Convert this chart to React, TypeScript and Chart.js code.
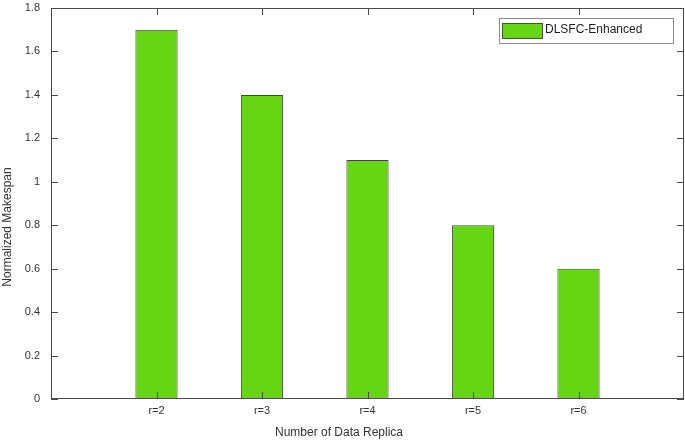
import React, { useEffect, useRef } from "react";
import { Chart, registerables } from "chart.js";

Chart.register(...registerables);

const categories = ["r=2", "r=3", "r=4", "r=5", "r=6"];
const seriesName = "DLSFC-Enhanced";
const seriesValues = [1.7, 1.4, 1.1, 0.8, 0.6];
const yTicks = [0, 0.2, 0.4, 0.6, 0.8, 1, 1.2, 1.4, 1.6, 1.8];
const yTickLabels = ["0", "0.2", "0.4", "0.6", "0.8", "1", "1.2", "1.4", "1.6", "1.8"];
const xTitle = "Number of Data Replica";
const yTitle = "Normalized Makespan";

const FONT = "'Liberation Sans', Arial, sans-serif";
const BAR_COLOR = "#66d614";
const LINE_COLOR = "#4a4a4a";
const TEXT_COLOR = "#333333";

export default function App() {
  const ref = useRef<HTMLCanvasElement | null>(null);

  useEffect(() => {
    document.body.style.margin = "0";
    const canvas = ref.current;
    if (!canvas) return;

    const labels = ["", ...categories, ""];
    const data = [null, ...seriesValues, null];

    const decor = {
      id: "decor",
      afterDatasetsDraw(chart: any) {
        const { ctx, chartArea } = chart;
        const { left, right, top, bottom } = chartArea;
        const xs = chart.scales.x;
        const ys = chart.scales.y;
        ctx.save();
        ctx.strokeStyle = LINE_COLOR;
        ctx.lineWidth = 1;
        ctx.strokeRect(Math.round(left) + 0.5, Math.round(top) + 0.5, Math.round(right - left) - 1, Math.round(bottom - top) - 1);
        const tl = 7;
        ctx.beginPath();
        yTicks.forEach((v) => {
          const py = Math.round(ys.getPixelForValue(v)) + 0.5;
          ctx.moveTo(left, py);
          ctx.lineTo(left + tl, py);
          ctx.moveTo(right, py);
          ctx.lineTo(right - tl, py);
        });
        categories.forEach((_, i) => {
          const px = Math.round(xs.getPixelForValue(i + 1)) + 0.5;
          ctx.moveTo(px, bottom);
          ctx.lineTo(px, bottom - tl);
          ctx.moveTo(px, top);
          ctx.lineTo(px, top + tl);
        });
        ctx.stroke();

        // tick labels
        ctx.fillStyle = TEXT_COLOR;
        ctx.font = `11px ${FONT}`;
        ctx.textBaseline = "middle";
        ctx.textAlign = "right";
        yTicks.forEach((v, i) => {
          ctx.fillText(yTickLabels[i], left - 11, ys.getPixelForValue(v));
        });
        ctx.textAlign = "center";
        categories.forEach((c, i) => {
          ctx.fillText(c, xs.getPixelForValue(i + 1), bottom + 12);
        });

        // legend
        ctx.fillStyle = "#ffffff";
        ctx.fillRect(499.5, 18.5, 174, 25);
        ctx.strokeStyle = "#8a8a8a";
        ctx.strokeRect(499.5, 18.5, 174, 25);
        ctx.fillStyle = BAR_COLOR;
        ctx.fillRect(502.5, 23.5, 40, 15);
        ctx.strokeStyle = "#3f5a2a";
        ctx.strokeRect(502.5, 23.5, 40, 15);
        ctx.fillStyle = "#222222";
        ctx.font = `12px ${FONT}`;
        ctx.textBaseline = "middle";
        ctx.textAlign = "left";
        ctx.fillText(seriesName, 545, 30);

        // axis titles
        ctx.fillStyle = TEXT_COLOR;
        ctx.textAlign = "center";
        ctx.fillText(xTitle, 339, 433);
        ctx.save();
        ctx.translate(8, 227);
        ctx.rotate(-Math.PI / 2);
        ctx.fillText(yTitle, 0, 0);
        ctx.restore();
        ctx.restore();
      },
    };

    const chart = new Chart(canvas, {
      type: "bar",
      data: {
        labels,
        datasets: [
          {
            label: seriesName,
            data,
            backgroundColor: BAR_COLOR,
            borderColor: "#3f4a38",
            borderWidth: 1,
            categoryPercentage: 0.4,
            barPercentage: 1,
          },
        ],
      },
      options: {
        animation: false,
        responsive: false,
        maintainAspectRatio: false,
        layout: { padding: { top: 8, right: 1, left: 0, bottom: 0 } },
        plugins: { legend: { display: false }, tooltip: { enabled: false } },
        scales: {
          x: {
            type: "category",
            offset: false,
            grid: { display: false },
            border: { display: false },
            ticks: { display: false },
            afterFit: (s: any) => {
              s.height = 42;
            },
          },
          y: {
            min: 0,
            max: 1.8,
            grid: { display: false },
            border: { display: false },
            afterBuildTicks: (s: any) => {
              s.ticks = yTicks.map((v) => ({ value: v }));
            },
            ticks: { display: false },
            afterFit: (s: any) => {
              s.width = 51;
            },
          },
        },
      },
      plugins: [decor],
    });
    return () => chart.destroy();
  }, []);

  return <canvas ref={ref} width={685} height={441} style={{ display: "block" }} />;
}
